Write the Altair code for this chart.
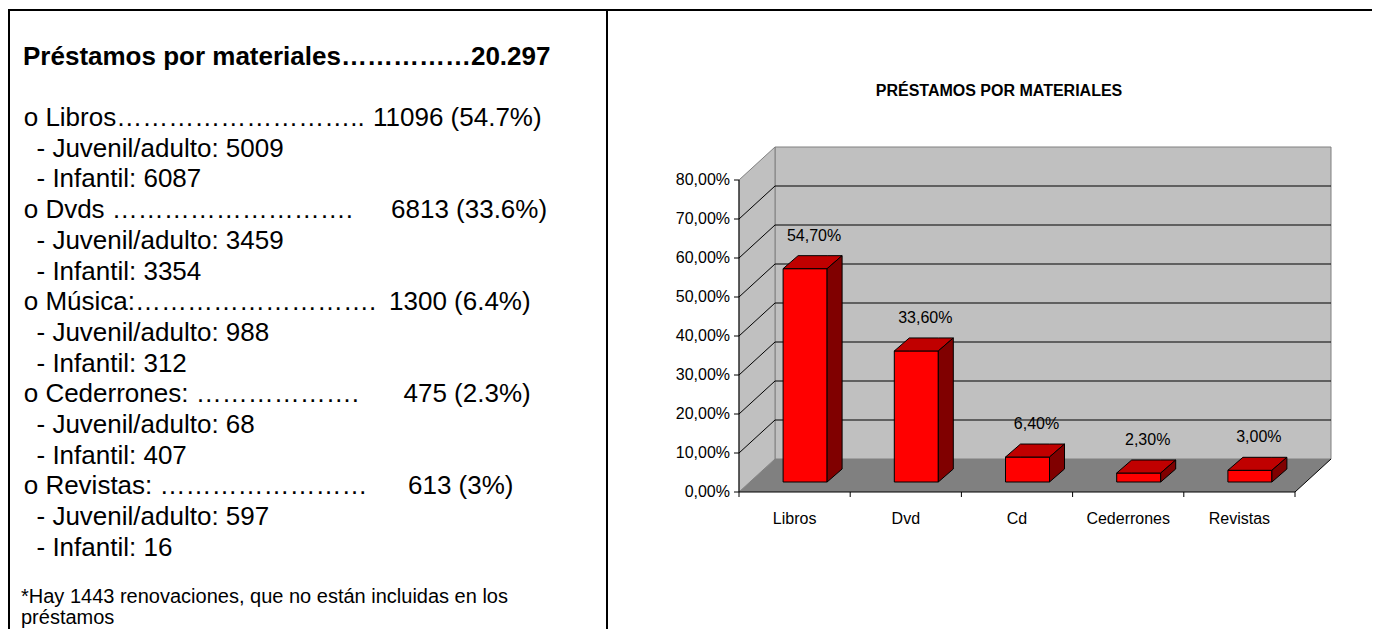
import altair as alt
import pandas as pd

FONT = "Liberation Sans, Arial, sans-serif"

# ---------------- data ----------------
categories = ["Libros", "Dvd", "Cd", "Cederrones", "Revistas"]
percentages = [54.7, 33.6, 6.4, 2.3, 3.0]
y_ticks = [0, 10, 20, 30, 40, 50, 60, 70, 80]
y_tick_labels = ["0,00%", "10,00%", "20,00%", "30,00%", "40,00%",
                 "50,00%", "60,00%", "70,00%", "80,00%"]
chart_title = "PRÉSTAMOS POR MATERIALES"

item_names = ["Libros", "Dvds", "Música", "Cederrones", "Revistas"]
item_suffix = ["", " ", ":", ": ", ": "]
item_dots = [29, 28, 28, 19, 24]
item_totals = [11096, 6813, 1300, 475, 613]
item_shares = ["54.7%", "33.6%", "6.4%", "2.3%", "3%"]
juvenil_adulto = [5009, 3459, 988, 68, 597]
infantil = [6087, 3354, 312, 407, 16]
total_prestamos = "20.297"
renovaciones = 1443

# ---------------- layout ----------------
W, H = 1364, 621
X0, X1 = 731, 1287          # front band range (px)
Y0, Y1 = 484, 172           # 0% and 80% on the front axis (px)
XS = alt.Scale(domain=[0, 5], range=[X0, X1], nice=False, zero=False)
YS = alt.Scale(domain=[0, 80], range=[Y0, Y1], nice=False, zero=False)
PXX = (X1 - X0) / 5
PXY = (Y0 - Y1) / 80
DX, DY = 36 / PXX, 33 / PXY          # wall depth
BDX, BDY = 15 / PXX, 13 / PXY        # bar depth
BW = 44 / PXX                        # bar width
OX, OY = (DX - BDX) / 2, (DY - BDY) / 2
TOP = 80


def X(f, **kw):
    return alt.X(f, scale=XS, axis=None, **kw)


def Y(f, **kw):
    return alt.Y(f, scale=YS, axis=None, stack=None, **kw)


layers = []

# back wall
back = pd.DataFrame({"x": [DX], "x2": [5 + DX], "y": [DY], "y2": [TOP + DY]})
layers.append(alt.Chart(back).mark_rect(fill="#C0C0C0", stroke="#808080", strokeWidth=1).encode(
    x=X("x:Q"), x2="x2:Q", y=Y("y:Q"), y2="y2:Q"))

# side wall
side = pd.DataFrame({"x": [0, DX], "lo": [0, DY], "hi": [TOP, TOP + DY]})
layers.append(alt.Chart(side).mark_area(fill="#C0C0C0", stroke="#808080", strokeWidth=1, opacity=1).encode(
    x=X("x:Q"), y=Y("hi:Q"), y2="lo:Q"))

# floor
floor = pd.DataFrame({"x": [0, DX, 5, 5 + DX], "lo": [0, 0, 0, DY], "hi": [0, DY, DY, DY]})
layers.append(alt.Chart(floor).mark_area(fill="#808080", opacity=1).encode(
    x=X("x:Q"), y=Y("hi:Q"), y2="lo:Q"))

# grid lines on the walls
g = []
for v in y_ticks[1:-1]:
    g.append({"x": DX, "y": v + DY, "x2": 5 + DX, "y2": v + DY})
    g.append({"x": 0, "y": v, "x2": DX, "y2": v + DY})
g.append({"x": 5, "y": 0, "x2": 5 + DX, "y2": DY})
layers.append(alt.Chart(pd.DataFrame(g)).mark_rule(color="black", strokeWidth=1).encode(
    x=X("x:Q"), y=Y("y:Q"), x2="x2:Q", y2="y2:Q"))

# bars
front_rows, top_rows, side_rows, lab_rows = [], [], [], []
for i, (c, v) in enumerate(zip(categories, percentages)):
    xl = i + 0.5 - BW / 2 + OX
    xr = xl + BW
    yb = OY
    yt = OY + v
    front_rows.append({"cat": c, "xl": xl, "xr": xr, "yb": yb, "yt": yt})
    top_rows += [
        {"cat": c, "x": xl, "lo": yt, "hi": yt},
        {"cat": c, "x": xl + BDX, "lo": yt, "hi": yt + BDY},
        {"cat": c, "x": xr, "lo": yt, "hi": yt + BDY},
        {"cat": c, "x": xr + BDX, "lo": yt + BDY, "hi": yt + BDY},
    ]
    side_rows += [
        {"cat": c, "x": xr, "lo": yb, "hi": yt},
        {"cat": c, "x": xr + BDX, "lo": yb + BDY, "hi": yt + BDY},
    ]
    lab_rows.append({"cat": c, "x": i + 0.5 + OX + 9 / PXX, "y": yt + 33 / PXY,
                     "t": f"{v:.2f}".replace(".", ",") + "%"})

layers.append(alt.Chart(pd.DataFrame(front_rows)).mark_rect(fill="#FF0000", stroke="black", strokeWidth=1).encode(
    x=X("xl:Q"), x2="xr:Q", y=Y("yb:Q"), y2="yt:Q"))
layers.append(alt.Chart(pd.DataFrame(top_rows)).mark_area(fill="#C00000", stroke="black", strokeWidth=1, opacity=1).encode(
    x=X("x:Q"), y=Y("hi:Q"), y2="lo:Q", detail="cat:N"))
layers.append(alt.Chart(pd.DataFrame(side_rows)).mark_area(fill="#800000", stroke="black", strokeWidth=1, opacity=1).encode(
    x=X("x:Q"), y=Y("hi:Q"), y2="lo:Q", detail="cat:N"))
layers.append(alt.Chart(pd.DataFrame(lab_rows)).mark_text(font=FONT, fontSize=16, color="black", baseline="middle").encode(
    x=X("x:Q"), y=Y("y:Q"), text="t:N"))

# ---- axes (drawn through the same scales) ----
ydf = pd.DataFrame({"v": y_ticks, "lab": y_tick_labels})
layers.append(alt.Chart(pd.DataFrame({"a": [0], "b": [TOP]})).mark_rule(color="black", strokeWidth=1).encode(
    x=alt.value(X0), y=Y("a:Q"), y2="b:Q"))
layers.append(alt.Chart(ydf).mark_rule(color="black", strokeWidth=1).encode(
    x=alt.value(X0 - 5), x2=alt.value(X0), y=Y("v:Q")))
layers.append(alt.Chart(ydf).mark_text(font=FONT, fontSize=16, color="black", align="right", baseline="middle").encode(
    x=alt.value(X0 - 9), y=Y("v:Q"), text="lab:N"))
layers.append(alt.Chart(pd.DataFrame({"a": [0], "b": [5]})).mark_rule(color="black", strokeWidth=1).encode(
    x=X("a:Q"), x2="b:Q", y=alt.value(Y0)))
ticks = pd.DataFrame({"b": list(range(len(categories) + 1))})
layers.append(alt.Chart(ticks).mark_rule(color="black", strokeWidth=1).encode(
    x=X("b:Q"), y=alt.value(Y0), y2=alt.value(Y0 + 5)))
xdf = pd.DataFrame({"c": [i + 0.5 for i in range(len(categories))], "lab": categories})
layers.append(alt.Chart(xdf).mark_text(font=FONT, fontSize=16, color="black", align="center", baseline="middle").encode(
    x=X("c:Q"), y=alt.value(Y0 + 27), text="lab:N"))


def txt(s, x, y, size=26, bold=False, align="left"):
    return alt.Chart(pd.DataFrame({"t": [s]})).mark_text(
        align=align, baseline="middle", font=FONT, fontSize=size,
        fontWeight="bold" if bold else "normal", color="black").encode(
        x=alt.value(x), y=alt.value(y), text="t:N")


# chart title
layers.append(txt(chart_title, 991, 83, size=16, bold=True, align="center"))

# ---------------- left panel text ----------------
value_x = [365, 383, 381, 395.5, 400]
layers.append(txt("Préstamos por materiales" + "\u2026" * 5 + total_prestamos, 15, 49, bold=True))
row0, step = 110, 30.7
for i, name in enumerate(item_names):
    yb = row0 + step * 3 * i
    n = item_dots[i]
    dots = "\u2026" * (n // 3) + "." * (n % 3)
    layers.append(txt("o " + name + item_suffix[i] + dots, 15.7, yb))
    layers.append(txt(f"{item_totals[i]} ({item_shares[i]})", value_x[i], yb))
    layers.append(txt(f"- Juvenil/adulto: {juvenil_adulto[i]}", 28.5, yb + step))
    layers.append(txt(f"- Infantil: {infantil[i]}", 28.5, yb + 2 * step))
layers.append(txt(f"*Hay {renovaciones} renovaciones, que no están incluidas en los", 13, 589, size=20))
layers.append(txt("préstamos", 13, 610, size=20))

# borders
one = pd.DataFrame({"k": [0]})
layers.append(alt.Chart(one).mark_rule(color="black", strokeWidth=2).encode(
    x=alt.value(0), x2=alt.value(W), y=alt.value(2)))
layers.append(alt.Chart(one).mark_rule(color="black", strokeWidth=2).encode(
    x=alt.value(1), y=alt.value(2), y2=alt.value(H)))
layers.append(alt.Chart(one).mark_rule(color="black", strokeWidth=2).encode(
    x=alt.value(599), y=alt.value(2), y2=alt.value(H)))

chart = alt.layer(*layers).properties(
    width=W, height=H, autosize=alt.AutoSizeParams(type="none"), padding=0,
    background="white").configure_view(stroke=None)

chart.save("out.html", embed_options={"renderer": "svg", "actions": False})
